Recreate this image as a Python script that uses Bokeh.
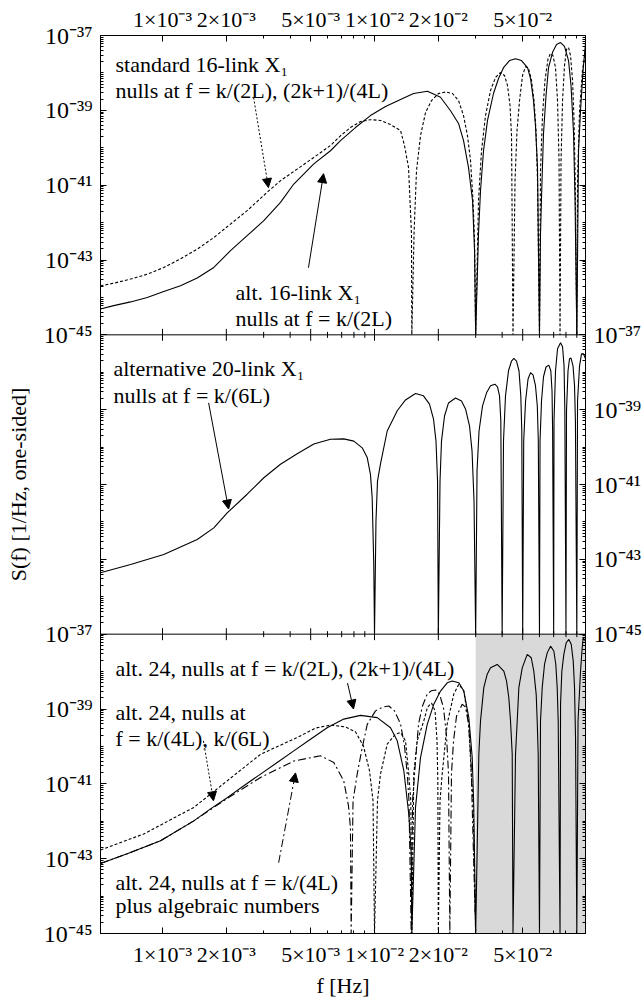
import math
from bokeh.plotting import figure
from bokeh.models import (Range1d, LogAxis, FixedTicker, CustomJSTickFormatter, Label, Arrow,
                          NormalHead, BoxAnnotation, Span)
from bokeh.embed import file_html
from bokeh.resources import INLINE

# ---------------- data ----------------
# frequencies f [Hz] and log10 of S(f) [1/Hz]; a null (exact zero) is drawn down to the 1e-45 floor
F_MIN, F_MAX = 5.1e-4, 0.0989

x_ticks = [1e-3, 2e-3, 5e-3, 1e-2, 2e-2, 5e-2]
x_tick_labels = ["1×10⁻³", "2×10⁻³", "5×10⁻³", "1×10⁻²", "2×10⁻²", "5×10⁻²"]
x_minor = [3e-3, 4e-3, 6e-3, 7e-3, 8e-3, 9e-3, 3e-2, 4e-2, 6e-2, 7e-2, 8e-2, 9e-2]
y_ticks = [1e-37, 1e-39, 1e-41, 1e-43, 1e-45]
y_tick_labels = ["10⁻³⁷", "10⁻³⁹", "10⁻⁴¹", "10⁻⁴³", "10⁻⁴⁵"]
y_minor = [m * 10.0 ** e for e in range(-45, -37) for m in range(1, 10) if not (m == 1 and e % 2 == 1)]

# panel 1 -- alt. 16-link X1 (solid)
top_alt_f = [5.10e-4, 5.89e-4, 7.07e-4, 8.47e-4, 1.014e-3, 1.216e-3, 1.458e-3, 1.746e-3, 2.093e-3, 2.508e-3,
             3.005e-3, 3.602e-3, 4.162e-3, 5.172e-3, 6.20e-3, 6.91e-3, 8.13e-3, 9.57e-3, 1.127e-2, 1.327e-2,
             1.528e-2, 1.778e-2, 2.048e-2, 2.283e-2, 2.491e-2, 2.630e-2, 2.776e-2, 2.900e-2, 2.964e-2, 3.0e-2,
             3.094e-2, 3.162e-2, 3.267e-2, 3.412e-2, 3.641e-2, 3.846e-2, 4.059e-2, 4.333e-2, 4.625e-2, 4.936e-2,
             5.270e-2, 5.445e-2, 5.623e-2, 5.745e-2, 5.873e-2, 6.0e-2,
             6.067e-2, 6.167e-2, 6.268e-2, 6.441e-2, 6.620e-2, 6.914e-2, 7.221e-2, 7.542e-2, 7.874e-2, 8.226e-2,
             8.452e-2, 8.686e-2, 8.829e-2, 9.0e-2,
             9.17e-2, 9.37e-2, 9.63e-2, 9.89e-2]
top_alt_logS = [-44.31, -44.22, -44.12, -44.00, -43.84, -43.69, -43.48, -43.20, -42.75, -42.35,
                -41.95, -41.46, -40.97, -40.43, -40.08, -39.81, -39.46, -39.14, -38.90, -38.71,
                -38.55, -38.49, -38.65, -39.01, -39.35, -39.81, -40.53, -41.41, -42.75, -45,
                -42.30, -41.15, -40.08, -39.27, -38.55, -38.15, -37.86, -37.67, -37.62, -37.67,
                -37.86, -38.15, -38.74, -39.41, -40.53, -45,
                -42.30, -40.88, -39.62, -38.61, -37.86, -37.45, -37.24, -37.19, -37.29, -37.67,
                -38.34, -39.62, -41.41, -45,
                -40.08, -39.01, -37.94, -37.21]

# panel 1 -- standard 16-link X1 (dotted)
top_std_f = [5.10e-4, 5.89e-4, 7.07e-4, 8.47e-4, 1.014e-3, 1.216e-3, 1.458e-3, 1.746e-3, 2.093e-3, 2.508e-3,
             3.118e-3, 3.602e-3, 4.318e-3, 5.172e-3, 6.20e-3, 6.91e-3,
             7.70e-3, 8.59e-3, 9.57e-3, 1.067e-2, 1.190e-2, 1.327e-2, 1.385e-2, 1.447e-2, 1.494e-2, 1.5e-2,
             1.536e-2, 1.578e-2, 1.648e-2, 1.740e-2, 1.857e-2, 2.004e-2, 2.163e-2, 2.333e-2, 2.491e-2, 2.630e-2,
             2.746e-2, 2.837e-2, 2.915e-2, 2.964e-2, 3.0e-2,
             3.094e-2, 3.197e-2, 3.339e-2, 3.526e-2, 3.722e-2, 3.929e-2, 4.104e-2, 4.241e-2, 4.357e-2, 4.429e-2, 4.5e-2,
             4.600e-2, 4.701e-2, 4.831e-2, 4.990e-2, 5.158e-2, 5.328e-2, 5.503e-2, 5.654e-2, 5.778e-2, 5.873e-2, 6.0e-2,
             6.067e-2, 6.200e-2, 6.370e-2, 6.584e-2, 6.765e-2, 6.950e-2, 7.141e-2, 7.299e-2, 7.419e-2, 7.5e-2,
             7.583e-2, 7.708e-2, 7.874e-2, 8.047e-2, 8.226e-2, 8.406e-2, 8.592e-2, 8.733e-2, 8.845e-2, 9.0e-2,
             9.071e-2, 9.27e-2, 9.57e-2, 9.89e-2]
top_std_logS = [-43.69, -43.62, -43.51, -43.38, -43.20, -42.97, -42.71, -42.40, -42.04, -41.68,
                -41.19, -40.88, -40.57, -40.26, -39.94, -39.68,
                -39.46, -39.30, -39.25, -39.27, -39.38, -39.54, -39.94, -40.53, -42.30, -45,
                -42.30, -40.61, -39.68, -39.06, -38.74, -38.55, -38.51, -38.55, -38.74, -39.14,
                -39.68, -40.34, -41.41, -42.49, -45,
                -41.41, -40.08, -39.14, -38.47, -38.12, -37.99, -38.07, -38.34, -38.87, -39.68, -45,
                -40.88, -39.54, -38.74, -38.07, -37.83, -37.88, -38.20, -38.74, -39.54, -40.88, -45,
                -40.61, -39.14, -38.20, -37.62, -37.48, -37.54, -37.86, -38.74, -40.34, -45,
                -40.34, -38.74, -37.80, -37.37, -37.32, -37.54, -38.20, -39.27, -40.88, -45,
                -40.88, -39.01, -37.94, -37.40]

# panel 2 -- alternative 20-link X1 (solid)
mid_f = [5.10e-4, 7.07e-4, 1.014e-3, 1.458e-3, 1.746e-3, 2.019e-3, 2.508e-3, 3.005e-3, 3.602e-3, 4.318e-3,
         5.172e-3, 6.20e-3, 7.16e-3, 7.99e-3, 8.75e-3, 9.24e-3, 9.57e-3, 9.75e-3, 9.92e-3, 1.0e-2,
         1.016e-2, 1.033e-2, 1.067e-2, 1.148e-2, 1.280e-2, 1.400e-2, 1.561e-2, 1.702e-2, 1.817e-2, 1.898e-2,
         1.950e-2, 1.983e-2, 2.0e-2,
         2.037e-2, 2.070e-2, 2.139e-2, 2.234e-2, 2.410e-2, 2.572e-2, 2.687e-2, 2.806e-2, 2.884e-2, 2.947e-2, 3.0e-2,
         3.045e-2, 3.112e-2, 3.232e-2, 3.376e-2, 3.526e-2, 3.694e-2, 3.804e-2, 3.887e-2, 3.943e-2, 4.0e-2,
         4.059e-2, 4.148e-2, 4.286e-2, 4.429e-2, 4.541e-2, 4.675e-2, 4.803e-2, 4.898e-2, 4.951e-2, 5.0e-2,
         5.055e-2, 5.158e-2, 5.299e-2, 5.445e-2, 5.594e-2, 5.745e-2, 5.860e-2, 5.924e-2, 6.0e-2,
         6.036e-2, 6.134e-2, 6.268e-2, 6.441e-2, 6.640e-2, 6.786e-2, 6.876e-2, 6.920e-2, 7.0e-2,
         7.025e-2, 7.141e-2, 7.299e-2, 7.542e-2, 7.708e-2, 7.835e-2, 7.902e-2, 8.0e-2,
         8.047e-2, 8.180e-2, 8.315e-2, 8.452e-2, 8.637e-2, 8.779e-2, 8.865e-2, 9.0e-2,
         9.071e-2, 9.27e-2, 9.471e-2, 9.679e-2, 9.89e-2]
mid_logS = [-43.36, -43.14, -42.87, -42.47, -42.16, -41.76, -41.26, -40.82, -40.46, -40.18,
            -39.92, -39.79, -39.78, -39.84, -40.02, -40.28, -40.73, -41.35, -43.14, -45,
            -41.98, -40.91, -40.45, -39.57, -39.03, -38.74, -38.57, -38.63, -38.85, -39.25,
            -39.84, -40.91, -45,
            -40.91, -39.84, -39.17, -38.82, -38.69, -38.77, -38.98, -39.43, -40.10, -41.44, -45,
            -40.64, -39.57, -38.90, -38.55, -38.36, -38.32, -38.39, -38.63, -39.30, -45,
            -39.84, -38.63, -37.96, -37.70, -37.63, -37.70, -37.96, -38.63, -39.57, -45,
            -39.84, -38.77, -38.18, -38.01, -38.07, -38.36, -38.90, -39.84, -45,
            -39.84, -38.77, -38.12, -37.86, -37.81, -37.96, -38.50, -39.57, -45,
            -39.30, -37.96, -37.37, -37.21, -37.32, -37.83, -39.03, -45,
            -39.03, -37.96, -37.64, -37.62, -37.83, -38.36, -39.30, -45,
            -38.77, -37.83, -37.51, -37.51, -37.64]

# panel 3 -- alt. 24, nulls at k/(2L), (2k+1)/(4L) (solid)
bot_a_f = [5.10e-4, 6.82e-4, 9.79e-4, 1.405e-3, 1.684e-3, 2.019e-3, 2.418e-3, 2.90e-3, 3.475e-3, 4.162e-3,
           4.99e-3, 5.98e-3, 7.16e-3, 8.59e-3, 1.030e-2, 1.190e-2, 1.280e-2, 1.375e-2, 1.451e-2, 1.490e-2, 1.5e-2,
           1.561e-2, 1.648e-2, 1.773e-2, 1.904e-2, 2.048e-2, 2.202e-2, 2.325e-2, 2.499e-2, 2.638e-2, 2.785e-2,
           2.89e-2, 2.94e-2, 3.0e-2,
           3.105e-2, 3.162e-2, 3.277e-2, 3.401e-2, 3.526e-2, 3.792e-2, 4.073e-2, 4.194e-2, 4.300e-2, 4.381e-2,
           4.462e-2, 4.5e-2,
           4.625e-2, 4.711e-2, 4.795e-2, 4.975e-2, 5.253e-2, 5.485e-2, 5.642e-2, 5.79e-2, 5.853e-2, 5.917e-2, 6.0e-2,
           6.067e-2, 6.18e-2, 6.337e-2, 6.525e-2, 6.765e-2, 7.011e-2, 7.164e-2, 7.274e-2, 7.353e-2, 7.5e-2,
           7.542e-2, 7.649e-2, 7.816e-2, 8.02e-2, 8.253e-2, 8.47e-2, 8.657e-2, 8.779e-2, 8.875e-2, 9.0e-2,
           9.12e-2, 9.37e-2, 9.54e-2, 9.65e-2, 9.89e-2]
bot_a_logS = [-43.13, -42.87, -42.52, -41.99, -41.67, -41.37, -41.05, -40.74, -40.43, -40.12,
              -39.81, -39.50, -39.27, -39.17, -39.23, -39.50, -39.85, -40.65, -41.81, -42.87, -45,
              -41.63, -40.30, -39.41, -38.87, -38.52, -38.30, -38.25, -38.30, -38.52, -39.23,
              -40.30, -41.63, -45,
              -40.21, -39.32, -38.43, -38.07, -37.90, -37.81, -37.99, -38.25, -38.70, -39.32,
              -40.21, -45,
              -40.21, -39.32, -38.43, -37.90, -37.54, -37.63, -37.99, -38.61, -39.32, -40.21, -45,
              -39.32, -38.43, -37.81, -37.50, -37.32, -37.45, -37.81, -38.43, -39.32, -45,
              -38.87, -37.99, -37.54, -37.23, -37.14, -37.27, -37.72, -38.43, -39.77, -45,
              -39.32, -37.99, -37.37, -37.10, -37.19]

# panel 3 -- alt. 24, nulls at k/(4L), k/(6L) (dotted)
bot_b_f = [5.10e-4, 8.16e-4, 1.405e-3, 2.019e-3, 2.90e-3, 4.29e-3, 5.27e-3, 6.20e-3, 7.30e-3, 8.13e-3,
           8.87e-3, 9.47e-3, 9.84e-3, 1.0e-2,
           1.033e-2, 1.067e-2, 1.148e-2, 1.256e-2, 1.327e-2, 1.400e-2, 1.451e-2, 1.483e-2, 1.5e-2,
           1.532e-2, 1.590e-2, 1.708e-2, 1.778e-2, 1.857e-2, 1.930e-2, 1.972e-2, 1.989e-2, 2.0e-2,
           2.037e-2, 2.086e-2, 2.202e-2, 2.366e-2, 2.499e-2, 2.638e-2, 2.785e-2, 2.858e-2, 2.915e-2, 3.0e-2]
bot_b_logS = [-42.77, -42.34, -41.63, -40.92, -40.21, -39.77, -39.51, -39.43, -39.48, -39.61,
              -39.99, -40.65, -41.45, -45,
              -41.45, -40.74, -39.94, -39.67, -39.63, -39.85, -40.74, -41.45, -45,
              -40.74, -39.85, -39.32, -38.95, -38.84, -39.05, -39.85, -40.92, -45,
              -41.45, -40.73, -39.40, -38.60, -38.34, -38.52, -39.40, -40.73, -41.45, -45]

# panel 3 -- alt. 24, nulls at k/(4L) plus algebraic numbers (dash-dot)
bot_c_f = [5.10e-4, 6.82e-4, 9.79e-4, 1.405e-3, 2.019e-3, 2.90e-3, 4.162e-3, 5.56e-3, 6.43e-3, 7.16e-3,
           7.54e-3, 7.70e-3, 7.76e-3,
           7.92e-3, 8.29e-3, 8.69e-3, 9.24e-3, 1.011e-2, 1.091e-2, 1.168e-2, 1.242e-2, 1.327e-2, 1.385e-2,
           1.427e-2, 1.454e-2, 1.49e-2,
           1.512e-2, 1.561e-2, 1.613e-2, 1.684e-2, 1.773e-2, 1.857e-2, 1.94e-2, 2.026e-2, 2.116e-2, 2.186e-2,
           2.234e-2, 2.266e-2,
           2.307e-2, 2.359e-2, 2.437e-2, 2.545e-2, 2.592e-2, 2.687e-2, 2.776e-2, 2.853e-2, 2.89e-2, 3.0e-2]
bot_c_logS = [-43.13, -42.87, -42.52, -41.99, -41.39, -40.83, -40.39, -40.25, -40.43, -40.92,
              -41.59, -42.17, -45,
              -41.45, -40.73, -40.12, -39.41, -39.05, -38.95, -38.92, -39.05, -39.40, -39.99,
              -40.73, -41.45, -45,
              -41.45, -40.39, -39.40, -38.92, -38.60, -38.51, -38.49, -38.60, -38.97, -39.72,
              -40.73, -45,
              -40.73, -39.85, -39.19, -38.97, -38.87, -38.95, -39.40, -40.39, -41.64, -45]

shade_left = 3.0e-2   # grey band of panel 3 starts here

FONT = "Liberation Serif"
FS = "22px"         # annotation / axis-title size
FS_YTICK = "24px"   # y tick-label size
FS_XTICK = "22px"   # x tick-label size

# one figure, three stacked log panels (8 decades each) through named y ranges
p = figure(x_axis_type="log", y_axis_type="log",
           x_range=Range1d(F_MIN, F_MAX), y_range=Range1d(1e-45, 1e-21),
           frame_width=485, frame_height=898,
           x_axis_location=None, y_axis_location=None,
           toolbar_location=None, output_backend="svg",
           min_border=0, min_border_left=100, min_border_right=58,
           min_border_top=35, min_border_bottom=62)
p.extra_y_ranges = {"top": Range1d(1e-61, 1e-37), "mid": Range1d(1e-53, 1e-29)}
p.grid.visible = False
p.outline_line_color = "black"
p.outline_line_width = 1
p.background_fill_color = "white"
p.border_fill_color = "white"

SHIFT = 1e-16   # panel 3 seen in the units of the "top" range (16 decades lower)


def fmt(ticks, labels):
    return CustomJSTickFormatter(args=dict(tk=ticks, lb=labels), code="""
        for (let i = 0; i < tk.length; i++) {
            if (Math.abs(Math.log10(tick) - Math.log10(tk[i])) < 1e-6) return lb[i];
        }
        return "";
    """)


def style(ax, size=FS_YTICK):
    ax.major_tick_out = 0
    ax.minor_tick_out = 0
    ax.axis_line_color = "black"
    ax.major_tick_line_color = "black"
    ax.minor_tick_line_color = "black"
    ax.major_label_text_font = FONT
    ax.major_label_text_font_size = size
    ax.major_label_text_color = "black"
    ax.axis_label_text_font = FONT
    ax.axis_label_text_font_size = FS
    ax.axis_label_text_font_style = "normal"
    ax.axis_label_text_color = "black"
    return ax


def tick_axis(side, ticks, length, rng=None):
    ticker = FixedTicker(ticks=[], minor_ticks=ticks)
    ax = LogAxis(ticker=ticker) if rng is None else LogAxis(ticker=ticker, y_range_name=rng)
    style(ax)
    ax.minor_tick_in = length
    ax.major_tick_in = 0
    ax.major_label_standoff = 0
    p.add_layout(ax, side)


# tick-only axes (no labels) -- added first so they sit on the frame edge
tick_axis("left", y_ticks, 6, "mid")
tick_axis("left", y_minor, 3, "mid")
for rng in ("top", "default"):
    tick_axis("right", y_ticks, 6, rng)
    tick_axis("right", y_minor, 3, rng)

# labelled left axis: panel 1 and panel 3 (panel 3 expressed in "top" range units)
left_ticks = y_ticks + [t * SHIFT for t in y_ticks]
left_labels = y_tick_labels + y_tick_labels
left_minor = y_minor + [t * SHIFT for t in y_minor]
ax_l = style(LogAxis(y_range_name="top", ticker=FixedTicker(ticks=left_ticks, minor_ticks=left_minor),
                     formatter=fmt(left_ticks, left_labels)))
ax_l.major_tick_in, ax_l.minor_tick_in, ax_l.major_label_standoff = 6, 3, 8
ax_l.axis_label = "S(f) [1/Hz, one-sided]"
ax_l.axis_label_standoff = 10
p.add_layout(ax_l, "left")

# labelled right axis: panel 2
ax_r = style(LogAxis(y_range_name="mid", ticker=FixedTicker(ticks=y_ticks, minor_ticks=y_minor),
                     formatter=fmt(y_ticks, y_tick_labels)))
ax_r.major_tick_in, ax_r.minor_tick_in, ax_r.major_label_standoff = 6, 3, 8
p.add_layout(ax_r, "right")

# labelled top and bottom axes
for side in ("above", "below"):
    ax = style(LogAxis(ticker=FixedTicker(ticks=x_ticks, minor_ticks=x_minor),
                       formatter=fmt(x_ticks, x_tick_labels)), FS_XTICK)
    ax.major_tick_in, ax.minor_tick_in = 6, 3
    ax.major_label_standoff = 4 if side == "above" else 8
    if side == "below":
        ax.axis_label = "f [Hz]"
        ax.axis_label_standoff = 3
    p.add_layout(ax, side)

# panel separators with ticks pointing into both panels
for rng in ("top", "mid"):
    p.add_layout(Span(location=1e-45, dimension="width", y_range_name=rng,
                      line_color="black", line_width=1))
    p.scatter(x_ticks, [1e-45] * len(x_ticks), y_range_name=rng, marker="dash",
              angle=math.pi / 2, size=12, line_color="black", line_width=1)
    p.scatter(x_minor, [1e-45] * len(x_minor), y_range_name=rng, marker="dash",
              angle=math.pi / 2, size=6, line_color="black", line_width=1)


def txt(x, y, text, rng="default"):
    p.add_layout(Label(x=x, y=y, y_range_name=rng, text=text, text_font=FONT, text_font_size=FS,
                       text_color="black", text_baseline="alphabetic", text_align="left"))


def S(logs):
    return [10.0 ** v for v in logs]


def arrow(xs, ys, xe, ye, rng, dash="solid"):
    p.add_layout(Arrow(end=NormalHead(size=9, fill_color="black", line_color="black", line_width=1),
                       x_start=xs, y_start=ys, x_end=xe, y_end=ye, y_range_name=rng,
                       line_color="black", line_width=1, line_dash=dash))


LW = 1.1
DOT = "3 2"
DASHDOT = "8 3 2 3"

# grey band in panel 3
p.add_layout(BoxAnnotation(left=shade_left, bottom=1e-45, top=1e-37,
                           fill_color="#d9d9d9", fill_alpha=1.0, line_color=None, level="underlay"))

# ---------- panel 1 ----------
p.line(top_std_f, S(top_std_logS), y_range_name="top", line_color="black", line_width=LW, line_dash=DOT)
p.line(top_alt_f, S(top_alt_logS), y_range_name="top", line_color="black", line_width=LW)
txt(6.0e-4, 1.68e-38, "standard 16-link X₁", "top")
txt(6.0e-4, 3.4e-39, "nulls at f = k/(2L), (2k+1)/(4L)", "top")
txt(2.21e-3, 1.33e-44, "alt. 16-link X₁", "top")
txt(2.21e-3, 2.68e-45, "nulls at f = k/(2L)", "top")
arrow(2.69e-3, 2.19e-39, 3.16e-3, 8.6e-42, "top", dash="2 2")
arrow(4.88e-3, 6.2e-44, 5.75e-3, 2.03e-41, "top")

# ---------- panel 2 ----------
p.line(mid_f, S(mid_logS), y_range_name="mid", line_color="black", line_width=LW)
txt(5.87e-4, 1.23e-38, "alternative 20-link X₁", "mid")
txt(5.87e-4, 2.33e-39, "nulls at f = k/(6L)", "mid")
arrow(1.65e-3, 1.52e-39, 2.05e-3, 2.21e-42, "mid")

# ---------- panel 3 ----------
p.line(bot_b_f, S(bot_b_logS), line_color="black", line_width=LW, line_dash=DOT)
p.line(bot_c_f, S(bot_c_logS), line_color="black", line_width=LW, line_dash=DASHDOT)
p.line(bot_a_f, S(bot_a_logS), line_color="black", line_width=LW)
txt(6.0e-4, 1.24e-38, "alt. 24, nulls at f = k/(2L), (2k+1)/(4L)")
txt(6.0e-4, 8.3e-40, "alt. 24, nulls at")
txt(6.0e-4, 1.58e-40, "f = k/(4L), k/(6L)")
txt(6.0e-4, 2.29e-44, "alt. 24, nulls at f = k/(4L)")
txt(6.0e-4, 5.58e-45, "plus algebraic numbers")
arrow(7.46e-3, 4.93e-39, 7.96e-3, 1.0e-39, "default")
arrow(1.56e-3, 1.4e-40, 1.74e-3, 3.52e-42, "default", dash="2 2")
arrow(3.53e-3, 7.8e-44, 4.24e-3, 1.96e-41, "default", dash=DASHDOT)

open("out.html", "w").write(file_html(p, INLINE))
